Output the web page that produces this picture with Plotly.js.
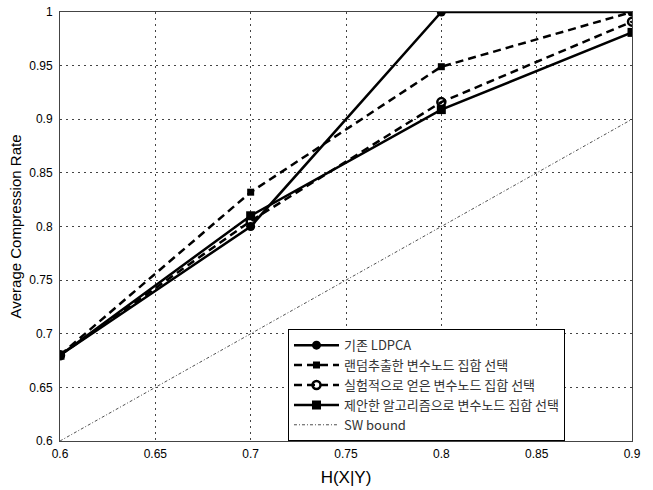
<!DOCTYPE html>
<html>
<head>
<meta charset="utf-8">
<script src="https://cdn.plot.ly/plotly-3.0.1.min.js"></script>
<style>html,body{margin:0;padding:0;background:#fff;}#chart{width:653px;height:490px;}</style>
</head>
<body>
<div id="chart"></div>
<script>
const xVals = [0.6, 0.7, 0.8, 0.9];
const ldpca = [0.68, 0.80, 1.0, 1.0];
const randomSel = [0.68, 0.832, 0.949, 1.0];
const experimental = [0.68, 0.805, 0.916, 0.991];
const proposed = [0.68, 0.81, 0.909, 0.981];
const swX = [0.6, 0.9];
const swY = [0.6, 0.9];
const names = ['기존 LDPCA', '랜덤추출한 변수노드 집합 선택', '실험적으로 얻은 변수노드 집합 선택', '제안한 알고리즘으로 변수노드 집합 선택', 'SW bound'];
const xTicks = [0.6, 0.65, 0.7, 0.75, 0.8, 0.85, 0.9];
const yTicks = [0.6, 0.65, 0.7, 0.75, 0.8, 0.85, 0.9, 0.95, 1];

const traces = [
  {x: xVals, y: ldpca, name: names[0], mode: 'lines+markers',
   line: {color: '#000', width: 2.5, dash: 'solid'}, marker: {symbol: 'circle', size: 9, color: '#000'}},
  {x: xVals, y: randomSel, name: names[1], mode: 'lines+markers',
   line: {color: '#000', width: 2.5, dash: '8px,5px'}, marker: {symbol: 'square', size: 7, color: '#000'}},
  {x: xVals, y: experimental, name: names[2], mode: 'lines+markers',
   line: {color: '#000', width: 2.5, dash: '8px,5px'}, marker: {symbol: 'circle-open', size: 8, color: '#000', line: {width: 2.5, color: '#000'}}},
  {x: xVals, y: proposed, name: names[3], mode: 'lines+markers',
   line: {color: '#000', width: 2.5, dash: 'solid'}, marker: {symbol: 'square', size: 9, color: '#000'}},
  {x: swX, y: swY, name: names[4], mode: 'lines',
   line: {color: '#222', width: 0.8, dash: '3px,2px,1px,2px'}}
];

const layout = {
  width: 653, height: 490,
  margin: {l: 60, r: 21, t: 12, b: 49},
  paper_bgcolor: '#fff', plot_bgcolor: '#fff',
  font: {family: 'Liberation Sans, Arial, sans-serif', color: '#000', size: 12},
  showlegend: true,
  legend: {x: 0.3986, y: 0.13, xanchor: 'left', yanchor: 'middle',
    bgcolor: '#fff', bordercolor: '#000', borderwidth: 1,
    font: {family: 'Noto Sans CJK KR, Liberation Sans, sans-serif', size: 13, color: '#333'},
    tracegroupgap: 0, itemwidth: 45},
  xaxis: {range: [0.6, 0.9], tickvals: xTicks, ticktext: xTicks.map(String),
    showgrid: true, gridcolor: '#444', griddash: '2px,4px', gridwidth: 1,
    showline: true, linecolor: '#444', linewidth: 1, mirror: true,
    ticks: '', zeroline: false, ticklabelstandoff: 2,
    title: {text: 'H(X|Y)', font: {size: 17}, standoff: 10}},
  yaxis: {range: [0.6, 1.0], tickvals: yTicks, ticktext: yTicks.map(String),
    showgrid: true, gridcolor: '#444', griddash: '2px,4px', gridwidth: 1,
    showline: true, linecolor: '#444', linewidth: 1, mirror: true,
    ticks: '', zeroline: false, ticklabelstandoff: 4,
    title: {text: 'Average Compression Rate', font: {size: 15}, standoff: 3}}
};

Plotly.newPlot('chart', traces, layout, {displayModeBar: false, staticPlot: true});
</script>
</body>
</html>
